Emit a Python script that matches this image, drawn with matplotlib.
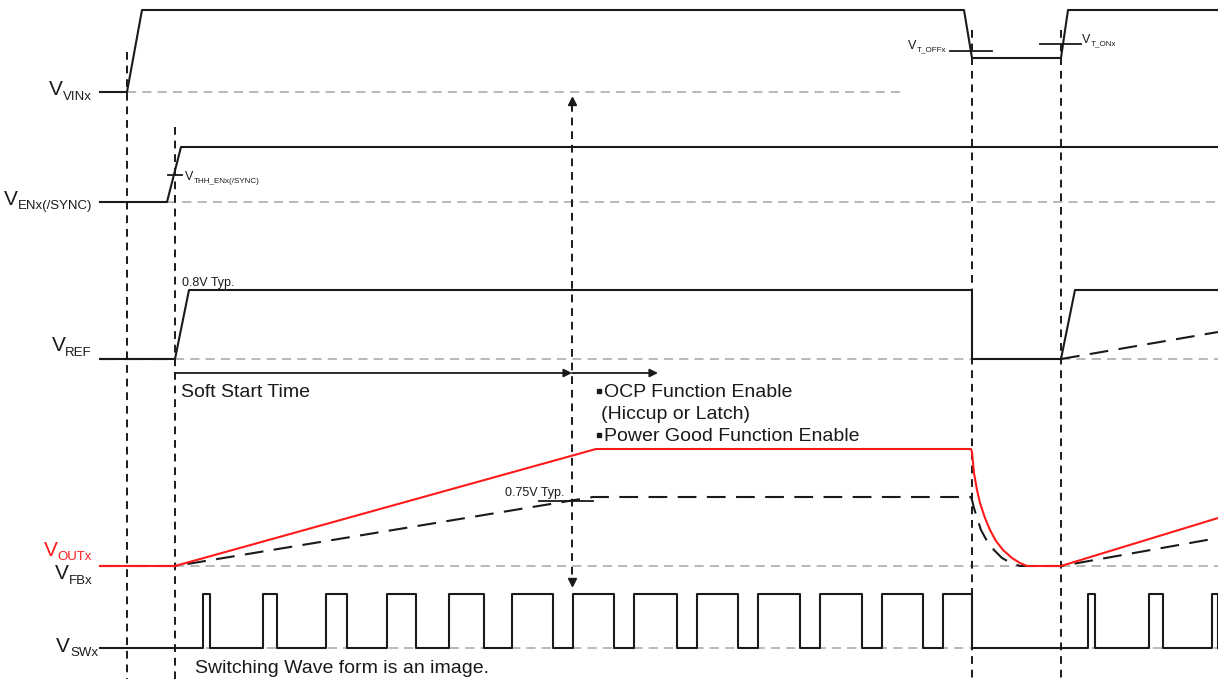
import matplotlib

matplotlib.use("Agg")
import matplotlib.pyplot as plt

plt.rcParams["font.family"] = ["Liberation Sans", "DejaVu Sans"]

# waveform vertices, in picture pixels (x right, y down)
vin_x = [100, 127, 142, 964, 972, 1061, 1068, 1218]
vin_y = [92, 92, 10, 10, 58, 58, 10, 10]

en_x = [100, 167, 181, 1218]
en_y = [202, 202, 147, 147]

ref_x = [100, 175, 189, 972, 972, 1061, 1075, 1218]
ref_y = [359, 359, 290, 290, 359, 359, 290, 290]
ref_restart_x = [1061, 1218]
ref_restart_y = [359, 332]

vout_x = [100, 175, 596, 971, 972, 974, 977, 980, 985, 990, 996, 1003, 1012, 1020, 1027, 1061, 1218]
vout_y = [566, 566, 449, 449, 452, 473, 490, 503, 518, 530, 541, 550, 558, 563, 566, 566, 518]

vfb_x = [100, 175, 593, 971, 972, 974, 977, 981, 987, 994, 1002, 1011, 1020, 1061, 1218]
vfb_y = [566, 566, 497, 497, 500, 508, 518, 530, 541, 550, 558, 563, 566, 566, 538]

# switching node: (rise, fall) edges of each pulse
sw_pulses = [
    (203, 210), (263, 277), (326, 347), (387, 416), (449, 484), (512, 553),
    (573, 614), (634, 677), (697, 738), (758, 800), (820, 862), (882, 923),
    (943, 972), (1088, 1095), (1149, 1163), (1212, 1218),
]
sw_low, sw_high = 648, 594

event_x = [127, 175, 972, 1061]
event_top = [52, 127, 30, 30]

# signal names: (subscript, right edge x, V baseline y, colour)
signal_names = [
    ("VINx", 92, 95, "#1a1a1a"),
    ("ENx(/SYNC)", 92, 205, "#1a1a1a"),
    ("REF", 92, 351, "#1a1a1a"),
    ("OUTx", 92, 556, "#ff1a1a"),
    ("FBx", 92, 579, "#1a1a1a"),
    ("SWx", 98, 652, "#1a1a1a"),
]

sw_x = [100]
sw_y = [sw_low]
for rise, fall in sw_pulses:
    sw_x += [rise, rise, fall, fall]
    sw_y += [sw_low, sw_high, sw_high, sw_low]
sw_x.append(1218)
sw_y.append(sw_low)

fig = plt.figure(figsize=(12.18, 6.79), dpi=100)
ax = fig.add_axes([0, 0, 1, 1])
ax.set_xlim(0, 1218)
ax.set_ylim(679, 0)
ax.axis("off")
renderer = fig.canvas.get_renderer()

black = "#1a1a1a"
gray = "#a6a6a6"
red = "#ff1a1a"
lw = 1.5


def subscript_label(x_edge, y_base, main, sub, main_size, sub_size, color, align="right"):
    # main letter plus a smaller, lowered subscript, like the drawing tool does
    drop = main_size * 0.3
    if align == "right":
        t = ax.text(x_edge, y_base + drop, sub, fontsize=sub_size, ha="right", va="baseline", color=color)
        left = ax.transData.inverted().transform(t.get_window_extent(renderer))[0][0]
        ax.text(left, y_base, main, fontsize=main_size, ha="right", va="baseline", color=color)
    else:
        t = ax.text(x_edge, y_base, main, fontsize=main_size, ha="left", va="baseline", color=color)
        right = ax.transData.inverted().transform(t.get_window_extent(renderer))[1][0]
        ax.text(right, y_base + drop, sub, fontsize=sub_size, ha="left", va="baseline", color=color)


# gray reference levels
for y0, x0, x1 in [(92, 127, 903), (202, 167, 1218), (359, 175, 1218), (566, 175, 1218), (648, 175, 1218)]:
    ax.plot([x0, x1], [y0, y0], color=gray, lw=1.1, dashes=(6, 4))

# event markers
for x0, top in zip(event_x, event_top):
    ax.plot([x0, x0], [top, 679], color=black, lw=1.4, dashes=(4, 3))

ax.plot(vin_x, vin_y, color=black, lw=lw)
ax.plot(en_x, en_y, color=black, lw=lw)
ax.plot(ref_x, ref_y, color=black, lw=lw)
ax.plot([100, 175], [359, 359], color=black, lw=lw, dashes=(8, 4))
ax.plot(ref_restart_x, ref_restart_y, color=black, lw=lw, dashes=(9, 5))
ax.plot(vfb_x, vfb_y, color=black, lw=lw, dashes=(9, 5))
ax.plot(vout_x, vout_y, color=red, lw=lw)
ax.plot(sw_x, sw_y, color=black, lw=lw)

# threshold ticks
ax.plot([168, 182], [175, 175], color=black, lw=1.3)
ax.plot([950, 992], [51, 51], color=black, lw=1.3)
ax.plot([1040, 1081], [44, 44], color=black, lw=1.3)
ax.plot([539, 593], [501, 501], color=black, lw=1.3)

# soft start window and enable marker
ax.plot([572, 572], [104, 579], color=black, lw=1.4, dashes=(4, 3))
ax.plot([572], [101], marker="^", color=black, ms=6)
ax.plot([572], [582], marker="v", color=black, ms=6)
arrow = dict(arrowstyle="-|>", color=black, lw=1.3, mutation_scale=12, shrinkA=0, shrinkB=0)
ax.annotate("", xy=(572, 373), xytext=(175, 373), arrowprops=arrow)
ax.annotate("", xy=(658, 373), xytext=(572, 373), arrowprops=arrow)

for sub, xr, yb, col in signal_names:
    subscript_label(xr, yb, "V", sub, 15, 9.5, col)

subscript_label(185, 180, "V", "THH_ENx(/SYNC)", 9, 5.8, black, align="left")
subscript_label(946, 49, "V", "T_OFFx", 9, 5.8, black)
subscript_label(1082, 43, "V", "T_ONx", 9, 5.8, black, align="left")

small = 9
ax.text(182, 286, "0.8V Typ.", fontsize=small, ha="left", va="baseline", color=black)
ax.text(505, 496, "0.75V Typ.", fontsize=small, ha="left", va="baseline", color=black)

mid = 14
ax.text(181, 397, "Soft Start Time", fontsize=mid, ha="left", va="baseline", color=black)
ax.plot([598.5, 598.5], [391, 435], ls="none", marker="s", ms=2.2, color=black)
ax.text(604, 397, "OCP Function Enable", fontsize=mid, ha="left", va="baseline", color=black)
ax.text(601, 419, "(Hiccup or Latch)", fontsize=mid, ha="left", va="baseline", color=black)
ax.text(604, 441, "Power Good Function Enable", fontsize=mid, ha="left", va="baseline", color=black)
ax.text(195, 673, "Switching Wave form is an image.", fontsize=mid, ha="left", va="baseline", color=black)

fig.savefig("out.png", dpi=100)
